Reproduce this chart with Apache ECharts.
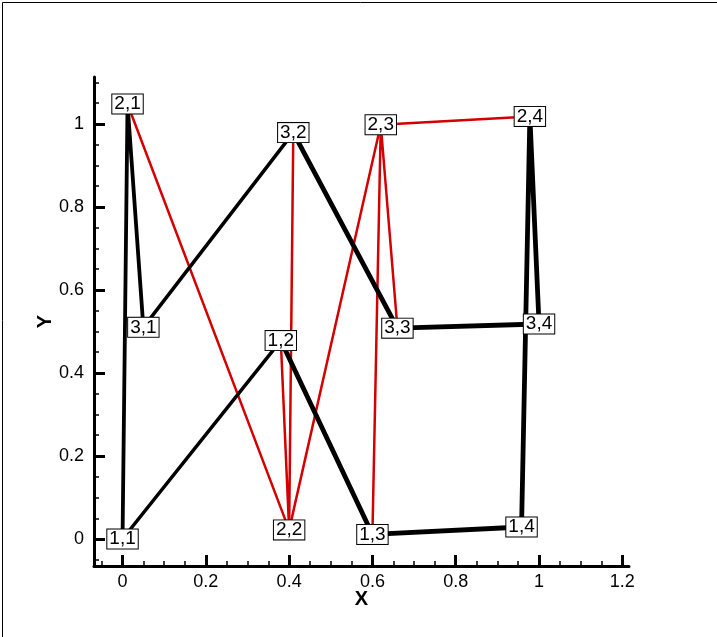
<!DOCTYPE html>
<html>
<head>
<meta charset="utf-8">
<script src="https://cdn.jsdelivr.net/npm/echarts@6/dist/echarts.min.js"></script>
<style>
html,body{margin:0;padding:0;background:#fff;}
#chart{width:717px;height:637px;}
</style>
</head>
<body>
<div id="chart"></div>
<script>
// Grid node coordinates, row i = 1..3, column j = 1..4
const nodeNamesRow1 = ['1,1', '1,2', '1,3', '1,4'];
const nodeNamesRow2 = ['2,1', '2,2', '2,3', '2,4'];
const nodeNamesRow3 = ['3,1', '3,2', '3,3', '3,4'];
const xRow1 = [0.0, 0.38, 0.60, 0.958];
const yRow1 = [0.0, 0.478, 0.011, 0.029];
const xRow2 = [0.012, 0.40, 0.62, 0.978];
const yRow2 = [1.048, 0.022, 0.998, 1.018];
const xRow3 = [0.05, 0.41, 0.66, 1.0];
const yRow3 = [0.51, 0.979, 0.508, 0.518];

const xTickLabels = [0, 0.2, 0.4, 0.6, 0.8, 1, 1.2];
const yTickLabels = [0, 0.2, 0.4, 0.6, 0.8, 1];
const xMinorTicks = [-0.05, 0.05, 0.1, 0.15, 0.25, 0.3, 0.35, 0.45, 0.5, 0.55, 0.65, 0.7, 0.75, 0.85, 0.9, 0.95, 1.05, 1.1, 1.15];
const yMinorTicks = [-0.05, 0.05, 0.1, 0.15, 0.25, 0.3, 0.35, 0.45, 0.5, 0.55, 0.65, 0.7, 0.75, 0.85, 0.9, 0.95, 1.05, 1.1];

const X = [xRow1, xRow2, xRow3];
const Y = [yRow1, yRow2, yRow3];
const N = [nodeNamesRow1, nodeNamesRow2, nodeNamesRow3];
function P(i, j) { return [X[i - 1][j - 1], Y[i - 1][j - 1]]; }

const FONT = 'Liberation Sans, Arial, sans-serif';

function lineSeries(points, color, width, z) {
  return {
    type: 'line', data: points, showSymbol: false, symbol: 'none',
    lineStyle: { color: color, width: width, cap: 'round', join: 'round' },
    silent: true, animation: false, z: z, xAxisIndex: 0, yAxisIndex: 0
  };
}

const series = [
  // interior mesh lines (red)
  lineSeries([P(2,1), P(2,2), P(2,3), P(2,4)], '#d40000', 2.5, 2),
  lineSeries([P(1,2), P(2,2), P(3,2)], '#d40000', 2.5, 2),
  lineSeries([P(1,3), P(2,3), P(3,3)], '#d40000', 2.5, 2),
  // boundary lines (black)
  lineSeries([P(1,1), P(2,1), P(3,1)], '#000', 3.8, 3),
  lineSeries([P(1,1), P(1,2)], '#000', 3.5, 3),
  lineSeries([P(3,1), P(3,2)], '#000', 3.5, 3),
  lineSeries([P(1,2), P(1,3), P(1,4), P(2,4), P(3,4), P(3,3), P(3,2)], '#000', 4.8, 3)
];

const labelData = [];
for (let i = 1; i <= 3; i++) {
  for (let j = 1; j <= 4; j++) {
    const p = P(i, j);
    labelData.push([p[0], p[1], N[i - 1][j - 1]]);
  }
}
series.push({
  type: 'custom', data: labelData, z: 10, silent: true, animation: false,
  xAxisIndex: 0, yAxisIndex: 0,
  encode: { x: 0, y: 1 },
  renderItem: function (params, api) {
    const c = api.coord([api.value(0), api.value(1)]);
    return {
      type: 'text', x: c[0], y: c[1], z2: 10,
      style: {
        text: api.value(2),
        x: 0, y: 0,
        align: 'center', verticalAlign: 'middle',
        fill: '#000', font: '19px ' + FONT, lineHeight: 17,
        backgroundColor: '#fff', borderColor: '#000', borderWidth: 1,
        padding: [1, 2, 1, 2]
      }
    };
  }
});

const axisCommon = {
  type: 'value', splitLine: { show: false }
};

const option = {
  backgroundColor: '#fff',
  animation: false,
  grid: { left: 94, right: 88, top: 77, bottom: 71, containLabel: false },
  xAxis: [
    Object.assign({}, axisCommon, {
      min: -0.0685, max: 1.216, position: 'bottom',
      name: 'X', nameLocation: 'middle', nameGap: 23, nameMoveOverlap: false,
      nameTextStyle: { fontFamily: FONT, fontSize: 20, fontWeight: 'bold', color: '#000' },
      axisLine: { show: true, onZero: false, lineStyle: { color: '#000', width: 3 } },
      axisTick: { show: true, inside: true, length: 11, customValues: xTickLabels, lineStyle: { color: '#000', width: 3 } },
      axisLabel: { show: true, customValues: xTickLabels, margin: 7, fontFamily: FONT, fontSize: 18, color: '#000', showMinLabel: true, showMaxLabel: true }
    }),
    Object.assign({}, axisCommon, {
      min: -0.0685, max: 1.216, position: 'bottom',
      axisLine: { show: false, onZero: false },
      axisTick: { show: true, inside: true, length: 5, customValues: xMinorTicks, lineStyle: { color: '#000', width: 1.5 } },
      axisLabel: { show: false }
    })
  ],
  yAxis: [
    Object.assign({}, axisCommon, {
      min: -0.065, max: 1.113, position: 'left',
      name: 'Y', nameLocation: 'middle', nameGap: 39, nameRotate: 90, nameMoveOverlap: false,
      nameTextStyle: { fontFamily: FONT, fontSize: 20, fontWeight: 'bold', color: '#000' },
      axisLine: { show: true, onZero: false, lineStyle: { color: '#000', width: 3 } },
      axisTick: { show: true, inside: true, length: 11, customValues: yTickLabels, lineStyle: { color: '#000', width: 3 } },
      axisLabel: { show: true, customValues: yTickLabels, margin: 10, fontFamily: FONT, fontSize: 18, color: '#000' }
    }),
    Object.assign({}, axisCommon, {
      min: -0.065, max: 1.113, position: 'left',
      axisLine: { show: false, onZero: false },
      axisTick: { show: true, inside: true, length: 5, customValues: yMinorTicks, lineStyle: { color: '#000', width: 1.5 } },
      axisLabel: { show: false }
    })
  ],
  graphic: [{
    type: 'rect', left: 0, top: 0, z: 100, silent: true,
    shape: { x: 0.5, y: 0.5, width: 716, height: 636 },
    style: { fill: 'none', stroke: '#000', lineWidth: 1 }
  }],
  series: series
};

const chart = echarts.init(document.getElementById('chart'), null, { renderer: 'canvas' });
chart.setOption(option);
</script>
</body>
</html>
